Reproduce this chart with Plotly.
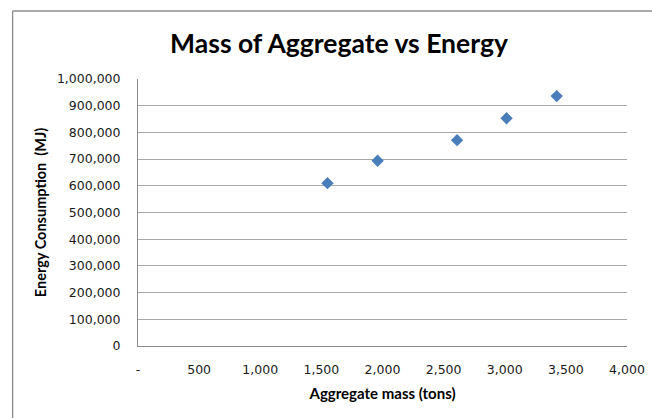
import plotly.graph_objects as go

# Aggregate mass (tons) and energy consumption (MJ)
aggregate_mass = [1550, 1960, 2610, 3015, 3425]
energy_mj = [610000, 694000, 771000, 853000, 936000]

x_tick_vals = [0, 500, 1000, 1500, 2000, 2500, 3000, 3500, 4000]
x_tick_text = ["-", "500", "1,000", "1,500", "2,000", "2,500", "3,000", "3,500", "4,000"]
y_tick_vals = [0, 100000, 200000, 300000, 400000, 500000, 600000, 700000, 800000, 900000, 1000000]
y_tick_text = ["0", "100,000", "200,000", "300,000", "400,000", "500,000",
               "600,000", "700,000", "800,000", "900,000", "1,000,000"]

W, H = 652, 418
ML, MR, MT, MB = 137.5, 25, 79, 72
PW, PH = W - ML - MR, H - MT - MB

fig = go.Figure(
    go.Scatter(
        x=aggregate_mass,
        y=energy_mj,
        mode="markers",
        marker=dict(symbol="diamond", size=9.5, color="#4a7ebb", line=dict(width=0)),
        showlegend=False,
    )
)

tick_font = dict(family="DejaVu Sans", size=12.5, color="#1a1a1a")

fig.update_layout(
    width=W,
    height=H,
    margin=dict(l=ML, r=MR, t=MT, b=MB, autoexpand=False),
    paper_bgcolor="white",
    plot_bgcolor="white",
    title=dict(
        text="<b>Mass of Aggregate vs Energy</b>",
        font=dict(family="Lato", size=26.5, color="#000000"),
        x=339 / W,
        xanchor="center",
        y=1 - 44 / H,
        yanchor="middle",
    ),
    xaxis=dict(
        range=[0, 4000],
        automargin=False,
        tickvals=x_tick_vals,
        ticktext=x_tick_text,
        tickfont=tick_font,
        showgrid=False,
        zeroline=False,
        showline=True,
        linecolor="#8c8c8c",
        linewidth=1,
        ticks="",
        ticklabelstandoff=12,
        title=dict(text="<b>Aggregate mass (tons)</b>",
                   font=dict(family="Lato", size=15, color="#000000"), standoff=12),
    ),
    yaxis=dict(
        range=[0, 1000000],
        automargin=False,
        tickvals=y_tick_vals,
        ticktext=y_tick_text,
        tickfont=tick_font,
        showgrid=True,
        gridcolor="#a8a8a8",
        gridwidth=1.3,
        zeroline=False,
        showline=True,
        linecolor="#8c8c8c",
        linewidth=1,
        ticks="",
        ticklabelstandoff=14,
        title=dict(text="<b>Energy Consumption  (MJ)</b>",
                   font=dict(family="Lato", size=14.5, color="#000000"), standoff=6),
    ),
)

# Chart frame: left and top edges
left_x = (12 - ML) / PW
top_y = 1 + (MT - 11) / PH
bottom_y = -(MB + 10) / PH
right_x = 1 + (MR + 10) / PW
fig.add_shape(type="line", xref="paper", yref="paper", x0=left_x, x1=left_x, y0=bottom_y, y1=top_y,
              line=dict(color="#8c8c8c", width=1.3))
fig.add_shape(type="line", xref="paper", yref="paper", x0=left_x, x1=right_x, y0=top_y, y1=top_y,
              line=dict(color="#8c8c8c", width=1.3))

fig.write_html("out.html")
